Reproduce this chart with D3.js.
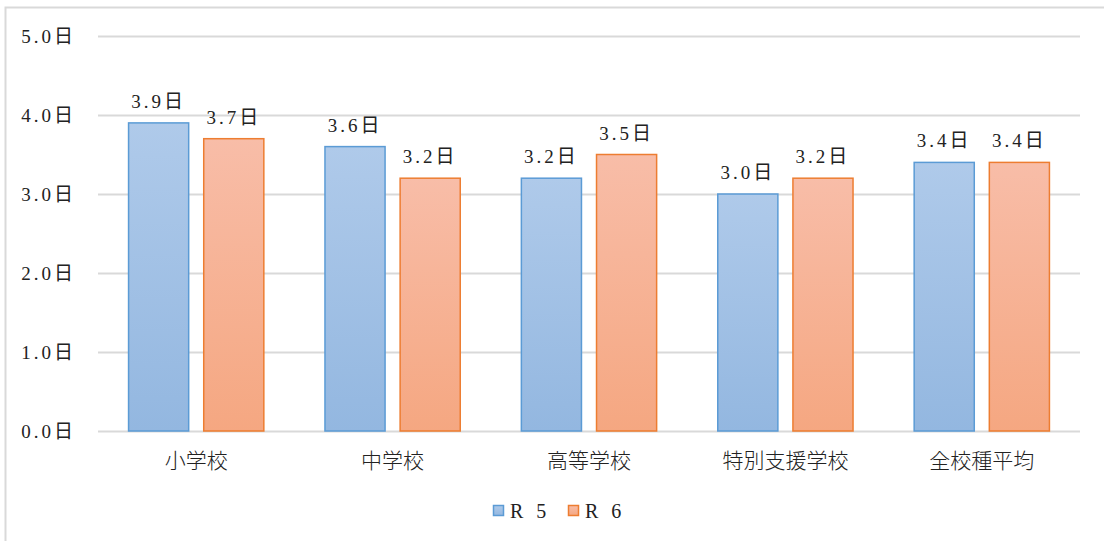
<!DOCTYPE html>
<html>
<head>
<meta charset="utf-8">
<script src="https://cdn.jsdelivr.net/npm/d3@7"></script>
<style>
  body { margin: 0; background: #fff; }
  svg { display: block; }
</style>
</head>
<body>
<svg id="chart" width="1104" height="541"></svg>
<script>
// School types and average days for each year
const categories = ["小学校", "中学校", "高等学校", "特別支援学校", "全校種平均"];
const seriesNames = ["R 5", "R 6"];
const r5Values = [3.9, 3.6, 3.2, 3.0, 3.4];
const r6Values = [3.7, 3.2, 3.5, 3.2, 3.4];
const yTicks = [0, 1, 2, 3, 4, 5];

const SERIF = "'Liberation Serif','Noto Sans CJK JP',serif";

const series = [
  { name: seriesNames[0], values: r5Values, top: "#afcaea", bottom: "#93b7e0", stroke: "#5b9bd5" },
  { name: seriesNames[1], values: r6Values, top: "#f8bda8", bottom: "#f5a781", stroke: "#ed7d31" }
];

const svg = d3.select("#chart");
const plot = { left: 98, right: 1080, top: 36, bottom: 431 };

// outer frame
svg.append("rect")
  .attr("x", 5.5).attr("y", 7.5).attr("width", 1110).attr("height", 540)
  .attr("fill", "none").attr("stroke", "#d9d9d9").attr("stroke-width", 2);

const defs = svg.append("defs");
series.forEach((s, i) => {
  const g = defs.append("linearGradient").attr("id", "grad" + i)
    .attr("x1", 0).attr("y1", 0).attr("x2", 0).attr("y2", 1);
  g.append("stop").attr("offset", "0%").attr("stop-color", s.top);
  g.append("stop").attr("offset", "100%").attr("stop-color", s.bottom);
});

const x = d3.scaleBand().domain(categories).range([plot.left, plot.right]);
const y = d3.scaleLinear().domain([0, 5]).range([plot.bottom, plot.top]);
const xInner = d3.scaleBand().domain([0, 1]).range([0, x.bandwidth()]).paddingInner(0.187).paddingOuter(0.4);

const fmt = d => d3.format(".1f")(d) + "日";

// gridlines
svg.append("g").selectAll("line").data(yTicks).join("line")
  .attr("x1", plot.left).attr("x2", plot.right)
  .attr("y1", d => Math.round(y(d)) + 0.5).attr("y2", d => Math.round(y(d)) + 0.5)
  .attr("stroke", "#d9d9d9").attr("stroke-width", 2);

// y axis labels
const yAxis = d3.axisLeft(y).tickValues(yTicks).tickFormat(fmt).tickSize(0).tickPadding(22);
const yg = svg.append("g").attr("transform", `translate(${plot.left},0)`).call(yAxis);
yg.select(".domain").remove();
yg.attr("font-family", SERIF);
yg.selectAll("text").attr("font-size", 19).attr("letter-spacing", 3).attr("fill", "#222");

// bars and value labels
series.forEach((s, i) => {
  const g = svg.append("g");
  g.selectAll("rect").data(s.values).join("rect")
    .attr("x", (d, j) => x(categories[j]) + xInner(i) + 0.5)
    .attr("y", d => y(d))
    .attr("width", xInner.bandwidth() - 1)
    .attr("height", d => y(0) - y(d))
    .attr("fill", `url(#grad${i})`)
    .attr("stroke", s.stroke).attr("stroke-width", 1.5);
  g.selectAll("text").data(s.values).join("text")
    .attr("x", (d, j) => x(categories[j]) + xInner(i) + xInner.bandwidth() / 2)
    .attr("y", d => y(d) - 15)
    .attr("text-anchor", "middle")
    .attr("font-family", SERIF)
    .attr("font-size", 19).attr("letter-spacing", 3).attr("fill", "#222")
    .text(fmt);
});

// category axis
const xAxis = d3.axisBottom(x).tickSize(0).tickPadding(22);
const xg = svg.append("g").attr("transform", `translate(0,${plot.bottom})`).call(xAxis);
xg.select(".domain").remove();
xg.attr("font-family", "'Noto Sans CJK JP',sans-serif");
xg.selectAll("text").attr("font-size", 21).attr("font-weight", 300).attr("fill", "#222");

// legend
const legend = svg.append("g");
const legendX = [493, 568];
series.forEach((s, i) => {
  legend.append("rect")
    .attr("x", legendX[i] + 0.5).attr("y", 505.5).attr("width", 10).attr("height", 10)
    .attr("fill", `url(#grad${i})`).attr("stroke", s.stroke).attr("stroke-width", 1.5);
  legend.append("text")
    .attr("x", legendX[i] + 17).attr("y", 518)
    .attr("font-family", SERIF)
    .attr("font-size", 20).attr("letter-spacing", 4).attr("fill", "#222")
    .text(s.name);
});
</script>
</body>
</html>
